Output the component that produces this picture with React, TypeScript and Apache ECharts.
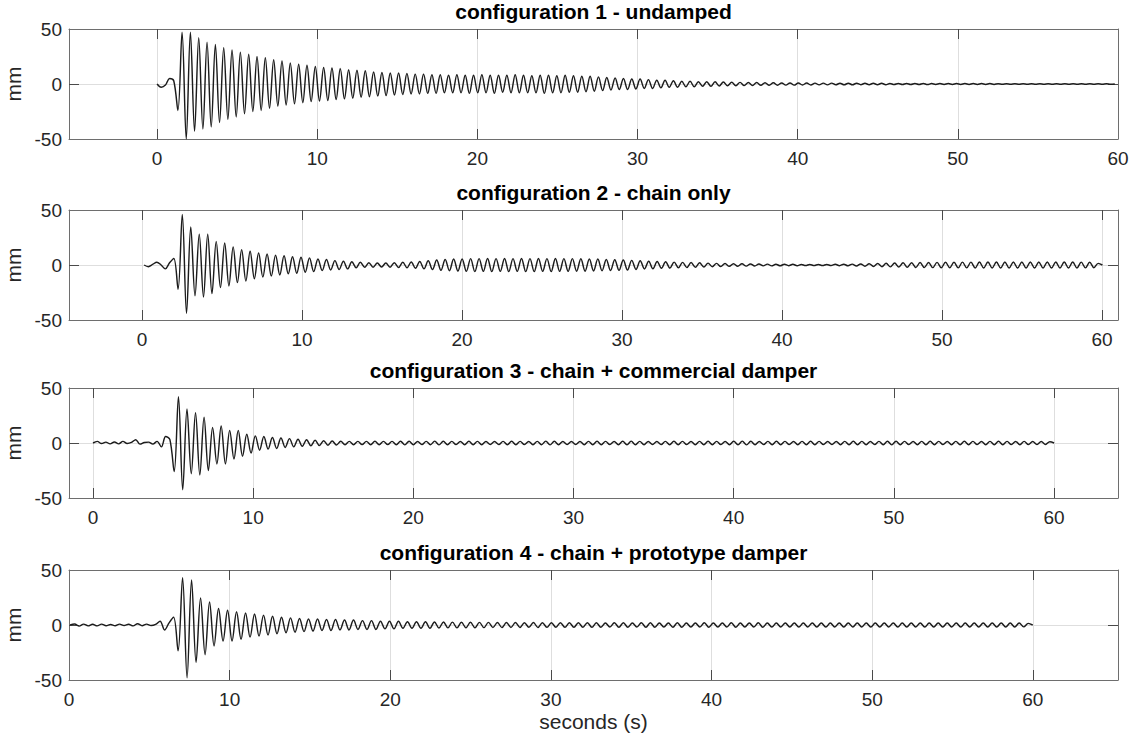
import React, { useEffect, useRef } from "react";
import * as echarts from "echarts";

// ---------- data ----------
const panelTitles = [
  "configuration 1 - undamped",
  "configuration 2 - chain only",
  "configuration 3 - chain + commercial damper",
  "configuration 4 - chain + prototype damper",
];
const xTickValues = [0, 10, 20, 30, 40, 50, 60];
const yTickValues = [-50, 0, 50];
const yGridValues = [0];
const xLimits = [
  [-5.5, 60],
  [-4.56, 61],
  [-1.5, 64],
  [0, 65.3],
];
const yLimits = [-50, 50];
// time of the first sample and sample spacing (s) of each record (extrema of each half cycle)
const sampleStart = [0, 0.135, 0, 0.07];
const sampleStep = [0.26, 0.265, 0.2667, 0.28];

// displacement (mm) at each sample
const config1 = [
  0, -3, -1, 5, 3, -24, 47, -50, 47, -43,
  42, -41, 38, -39, 36, -35, 33, -32, 31, -30,
  29, -27, 27, -25, 25, -24, 24, -22, 22, -20,
  21, -19, 19, -18, 18, -17, 17, -16, 16, -15.5,
  15, -15, 14.5, -14, 14, -13.5, 13, -13, 12.5, -12,
  12, -11.5, 11, -11, 10.5, -10.5, 10, -10, 10, -9.5,
  9.5, -9, 9, -9, 9, -8.5, 8.5, -8.5, 8.5, -8,
  8, -8, 8.5, -8, 8, -8.5, 8, -8, 8.5, -8,
  8, -8.5, 8, -7.5, 8, -8, 8.5, -8, 8, -8,
  7.5, -8, 8, -8.5, 8, -8, 7.5, -8, 8, -7.5,
  7.5, -7.5, 7, -7, 7, -6.5, 6.5, -6, 6, -5.5,
  5.5, -5, 5, -5, 4.5, -4.5, 4.5, -4, 4, -4,
  3.5, -3.5, 3.5, -3, 3, -3, 2.5, -2.5, 2.5, -2.5,
  2, -2, 2, -2, 2, -1.8, 1.8, -1.6, 1.6, -1.5,
  1.5, -1.4, 1.4, -1.3, 1.3, -1.2, 1.2, -1.2, 1.1, -1.1,
  1, -1, 1, -1, 0.9, -0.9, 0.9, -0.9, 0.8, -0.8,
  0.8, -0.8, 0.8, -0.7, 0.7, -0.7, 0.7, -0.7, 0.7, -0.6,
  0.6, -0.6, 0.6, -0.6, 0.6, -0.6, 0.5, -0.5, 0.5, -0.5,
  0.5, -0.5, 0.5, -0.5, 0.5, -0.5, 0.4, -0.4, 0.4, -0.4,
  0.4, -0.4, 0.4, -0.4, 0.4, -0.4, 0.4, -0.4, 0.4, -0.4,
  0.4, -0.4, 0.3, -0.3, 0.3, -0.3, 0.3, -0.3, 0.3, -0.3,
  0.3, -0.3, 0.3, -0.3, 0.3, -0.3, 0.3, -0.3, 0.3, -0.3,
  0.3, -0.3, 0.3, -0.3, 0.3, -0.3, 0.3, -0.3, 0.3, -0.3,
  0,
];
const config2 = [
  0, -1.5, 0.5, 2.5, 0, -3.5, 2, 6, -22, 46,
  -44, 34.5, -28, 28, -29, 28, -26, 21.5, -20.5, 20,
  -19, 16.5, -16, 14, -14.5, 12.5, -12.5, 11, -11, 10,
  -10, 9, -9, 8.5, -8, 7.5, -7.5, 7, -6.5, 6.5,
  -6, 5.5, -5, 5, -4.5, 4, -4, 3.5, -3.5, 3,
  -2.5, 2.5, -2, 2, -2, 1.8, -1.8, 1.8, -2, 2,
  -2.2, 2.5, -2.5, 2.8, -3, 3.2, -3.5, 3.8, -4.2, 4.5,
  -4.8, 5, -5.2, 5.5, -5.5, 5.5, -5.8, 5.8, -6, 5.8,
  -5.8, 6, -6, 5.8, -5.8, 6, -6, 5.8, -5.8, 6,
  -6, 5.8, -6, 6, -5.8, 5.8, -6, 6, -5.8, 5.8,
  -5.8, 5.8, -5.6, 5.6, -5.6, 5.4, -5.4, 5.4, -5.2, 5,
  -5, 4.8, -4.8, 4.5, -4.5, 4.2, -4, 3.8, -3.6, 3.5,
  -3.4, 3.2, -3, 3, -2.8, 2.6, -2.5, 2.4, -2.2, 2.2,
  -2, 2, -1.8, 1.7, -1.6, 1.5, -1.4, 1.3, -1.2, 1.2,
  -1.2, 1.1, -1, 1, -0.9, 0.9, -0.8, 0.8, -0.8, 0.7,
  -0.7, 0.7, -0.6, 0.6, -0.6, 0.5, -0.5, 0.5, -0.5, 0.5,
  -0.5, 0.5, -0.5, 0.6, -0.6, 0.7, -0.7, 0.8, -0.9, 1,
  -1.1, 1.2, -1.3, 1.4, -1.5, 1.6, -1.7, 1.8, -1.9, 2,
  -2, 2.1, -2.2, 2.2, -2.3, 2.3, -2.4, 2.4, -2.5, 2.5,
  -2.5, 2.5, -2.6, 2.6, -2.6, 2.6, -2.7, 2.7, -2.7, 2.7,
  -2.7, 2.7, -2.8, 2.8, -2.8, 2.8, -2.8, 2.8, -2.8, 2.8,
  -2.8, 2.8, -2.8, 2.8, -2.8, 2.8, -2.7, 2.7, -2.7, 2.7,
  -2.7, 2.6, -2.6, 2.5, -2.5, 1.5, 0,
];
const config3 = [
  0, 1.5, -0.5, 0.8, -0.8, 1, -0.8, 1.5, -0.5, 0.5,
  3, -1, 0.5, 0.8, -1, 1.5, -3.5, 6, 3, -26,
  42, -42.5, 31, -28, 27.5, -29, 23.5, -25, 14, -19,
  15.5, -19, 11.5, -14.5, 11.5, -12, 8, -9, 6.5, -6.5,
  6, -5.5, 5, -5, 4.5, -4, 4, -3.5, 3.5, -3,
  3, -2.5, 2.5, -2.2, 2, -2, 1.8, -1.8, 1.6, -1.6,
  1.5, -1.5, 1.5, -1.4, 1.5, -1.5, 1.6, -1.5, 1.5, -1.4,
  1.5, -1.6, 1.6, -1.7, 1.6, -1.5, 1.4, -1.4, 1.5, -1.6,
  1.7, -1.7, 1.6, -1.5, 1.5, -1.4, 1.4, -1.5, 1.6, -1.6,
  1.5, -1.5, 1.4, -1.3, 1.3, -1.4, 1.5, -1.6, 1.6, -1.5,
  1.5, -1.4, 1.4, -1.5, 1.5, -1.6, 1.7, -1.7, 1.6, -1.5,
  1.4, -1.4, 1.3, -1.3, 1.4, -1.5, 1.5, -1.6, 1.6, -1.5,
  1.5, -1.4, 1.4, -1.5, 1.6, -1.6, 1.7, -1.6, 1.5, -1.5,
  1.4, -1.3, 1.3, -1.4, 1.5, -1.5, 1.6, -1.6, 1.5, -1.4,
  1.4, -1.5, 1.5, -1.6, 1.6, -1.5, 1.5, -1.4, 1.4, -1.5,
  1.6, -1.6, 1.7, -1.7, 1.6, -1.5, 1.4, -1.4, 1.5, -1.5,
  1.6, -1.6, 1.5, -1.4, 1.4, -1.5, 1.5, -1.6, 1.6, -1.5,
  1.5, -1.4, 1.4, -1.3, 1.4, -1.5, 1.5, -1.6, 1.6, -1.6,
  1.5, -1.5, 1.4, -1.4, 1.5, -1.6, 1.6, -1.7, 1.6, -1.5,
  1.5, -1.4, 1.4, -1.5, 1.5, -1.6, 1.6, -1.5, 1.5, -1.4,
  1.4, -1.5, 1.5, -1.6, 1.6, -1.5, 1.5, -1.4, 1.4, -1.5,
  1.5, -1.6, 1.6, -1.5, 1.5, -1.4, 1.4, -1.5, 1.5, -1.4,
  1.4, -1.4, 1.3, -1.3, 1.2, 0,
];
const config4 = [
  0, 1, -1, 0.8, -0.8, 0.6, -0.8, 0.8, -0.6, 0.5,
  -0.6, 0.8, -0.5, 0.6, -0.8, 1.2, -0.6, 0.8, -0.5, 0.5,
  3.5, -4.5, 2, 7, -23.5, 43, -48, 41, -34, 24.5,
  -27, 21, -19, 15, -14.5, 13.5, -14.5, 12, -13, 11,
  -11, 10, -10, 9, -9, 8, -8, 7, -7, 6.5,
  -6.5, 6, -6, 5.5, -5.5, 5.5, -5, 5, -5, 5,
  -4.5, 4.5, -4.5, 4.5, -4, 4, -4, 4, -4, 3.5,
  -3.5, 3.5, -3.5, 3.5, -3, 3, -3, 3, -3, 3,
  -3, 2.8, -2.8, 2.8, -2.6, 2.6, -2.6, 2.5, -2.5, 2.5,
  -2.5, 2.4, -2.4, 2.4, -2.3, 2.3, -2.3, 2.2, -2.2, 2.2,
  -2.2, 2.1, -2.1, 2.2, -2.2, 2.1, -2.1, 2, -2, 2.1,
  -2.1, 2, -2, 2, -2, 2.1, -2.1, 2, -2, 1.9,
  -1.9, 2, -2, 2, -2, 1.9, -1.9, 2, -2, 2,
  -2, 1.9, -1.9, 1.9, -2, 2, -2, 1.9, -1.9, 1.9,
  -1.9, 2, -2, 1.9, -1.9, 1.9, -1.9, 2, -2, 1.9,
  -1.9, 1.9, -1.9, 2, -2, 1.9, -1.9, 1.8, -1.8, 1.9,
  -1.9, 1.9, -1.9, 1.8, -1.8, 1.9, -1.9, 1.9, -1.9, 1.8,
  -1.8, 1.9, -1.9, 1.9, -1.8, 1.8, -1.8, 1.9, -1.9, 1.8,
  -1.8, 1.8, -1.8, 1.9, -1.9, 1.8, -1.8, 1.8, -1.8, 1.9,
  -1.9, 1.8, -1.8, 1.8, -1.8, 1.8, -1.8, 1.9, -1.9, 1.8,
  -1.8, 1.8, -1.8, 1.8, -1.8, 1.8, -1.8, 1.8, -1.8, 1.8,
  -1.8, 1.8, -1.7, 1.5, 0,
];
const records = [config1, config2, config3, config4];
const xAxisName = "seconds (s)";
const yAxisName = "mm";

// ---------- layout / style ----------
const FONT = '"Liberation Sans", Arial, Helvetica, sans-serif';
const PLOT_LEFT = 69;
const PLOT_WIDTH = 1049;
const PLOT_HEIGHT = 110;
const PLOT_TOPS = [29, 210, 388, 570];
const BOX_COLOR = "#6e6e6e";
const TICK_COLOR = "#4a4a4a";
const GRID_COLOR = "#dedede";
const TEXT_COLOR = "#262626";

function buildOption() {
  const grid: any[] = [];
  const xAxis: any[] = [];
  const yAxis: any[] = [];
  const series: any[] = [];
  const graphic: any[] = [];

  records.forEach((values, p) => {
    const [xmin, xmax] = xLimits[p];
    const innerTicks = xTickValues.filter((v) => v > xmin && v < xmax);
    grid.push({
      left: PLOT_LEFT,
      top: PLOT_TOPS[p],
      width: PLOT_WIDTH,
      height: PLOT_HEIGHT,
      containLabel: false,
      outerBoundsMode: "none",
    });
    const last = p === records.length - 1;
    xAxis.push({
      type: "value",
      gridIndex: p,
      position: "bottom",
      min: xmin,
      max: xmax,
      axisLine: { show: true, onZero: false, lineStyle: { color: BOX_COLOR, width: 1 } },
      axisTick: { show: true, inside: true, length: 10, customValues: innerTicks, lineStyle: { color: TICK_COLOR, width: 1 } },
      axisLabel: { show: true, customValues: xTickValues, margin: 10, fontSize: 19, color: TEXT_COLOR, fontFamily: FONT },
      splitLine: { show: true, lineStyle: { color: GRID_COLOR, width: 1 } },
      name: last ? xAxisName : "",
      nameLocation: "middle",
      nameGap: 31,
      nameTextStyle: { fontSize: 21, color: TEXT_COLOR, fontFamily: FONT },
    });
    xAxis.push({
      type: "value",
      gridIndex: p,
      position: "top",
      min: xmin,
      max: xmax,
      axisLine: { show: true, onZero: false, lineStyle: { color: BOX_COLOR, width: 1 } },
      axisTick: { show: true, inside: true, length: 10, customValues: innerTicks, lineStyle: { color: TICK_COLOR, width: 1 } },
      axisLabel: { show: false },
      splitLine: { show: false },
    });
    yAxis.push({
      type: "value",
      gridIndex: p,
      position: "left",
      min: yLimits[0],
      max: yLimits[1],
      axisLine: { show: true, onZero: false, lineStyle: { color: BOX_COLOR, width: 1 } },
      axisTick: { show: true, inside: true, length: 10, customValues: yGridValues, lineStyle: { color: TICK_COLOR, width: 1 } },
      axisLabel: { show: true, customValues: yTickValues, margin: 7, fontSize: 19, color: TEXT_COLOR, fontFamily: FONT },
      splitLine: { show: true, lineStyle: { color: GRID_COLOR, width: 1 } },
      name: yAxisName,
      nameLocation: "middle",
      nameRotate: 90,
      nameGap: 42,
      nameTextStyle: { fontSize: 21, color: TEXT_COLOR, fontFamily: FONT },
    });
    yAxis.push({
      type: "value",
      gridIndex: p,
      position: "right",
      min: yLimits[0],
      max: yLimits[1],
      axisLine: { show: true, onZero: false, lineStyle: { color: BOX_COLOR, width: 1 } },
      axisTick: { show: true, inside: true, length: 10, customValues: yGridValues, lineStyle: { color: TICK_COLOR, width: 1 } },
      axisLabel: { show: false },
      splitLine: { show: false },
    });
    series.push({
      type: "line",
      xAxisIndex: 2 * p,
      yAxisIndex: 2 * p,
      data: values.map((v, i) => [sampleStart[p] + i * sampleStep[p], v]),
      showSymbol: false,
      symbol: "none",
      smooth: 0.35,
      clip: true,
      silent: true,
      lineStyle: { color: "#1c1c1c", width: 1.45 },
    });
    graphic.push({
      type: "text",
      x: PLOT_LEFT + PLOT_WIDTH / 2,
      y: PLOT_TOPS[p] - 18,
      silent: true,
      style: {
        text: panelTitles[p],
        fontSize: 21,
        fontWeight: "bold",
        fontFamily: FONT,
        fill: "#000",
        align: "center",
        verticalAlign: "middle",
      },
    });
  });

  return {
    animation: false,
    backgroundColor: "#ffffff",
    grid,
    xAxis,
    yAxis,
    series,
    graphic,
  };
}

export default function App() {
  const ref = useRef<HTMLDivElement>(null);
  useEffect(() => {
    if (!ref.current) return;
    const chart = echarts.init(ref.current, undefined, { renderer: "svg" });
    chart.setOption(buildOption() as any);
    return () => chart.dispose();
  }, []);
  return (
    <div
      ref={ref}
      style={{ position: "fixed", left: 0, top: 0, width: 1133, height: 742, background: "#fff" }}
    />
  );
}
